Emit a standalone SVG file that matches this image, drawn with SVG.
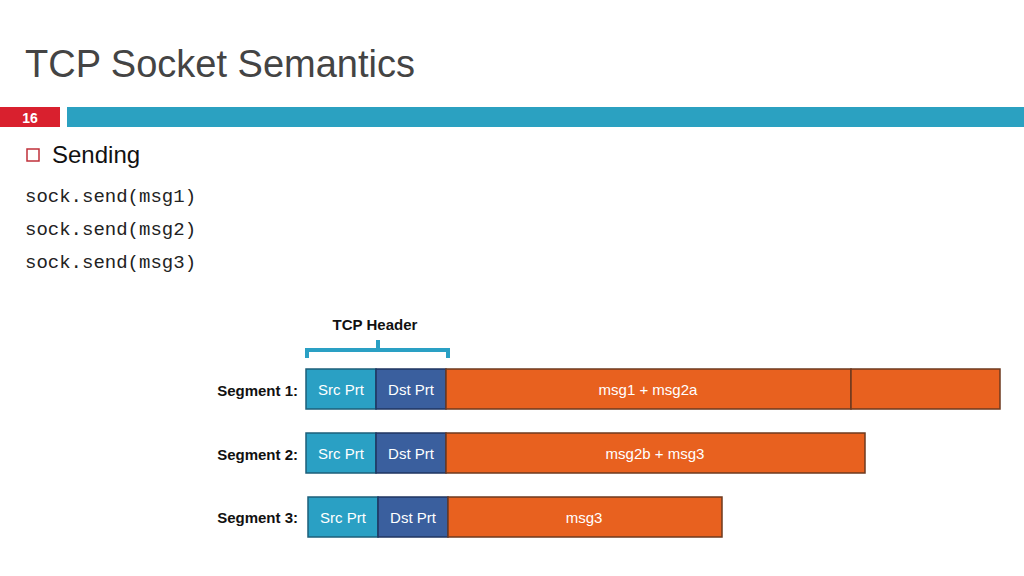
<svg xmlns="http://www.w3.org/2000/svg" width="1024" height="576" viewBox="0 0 1024 576">
<style>
.t{font-family:"Liberation Sans",Arial,sans-serif}
.src{fill:#2aa0c4;stroke:#1d5f7a;stroke-width:1.5}
.dst{fill:#3a5f9e;stroke:#1f3560;stroke-width:1.5}
.msg{fill:#e8611f;stroke:#6e3a1f;stroke-width:1.5}
.w{font-family:"Liberation Sans",Arial,sans-serif;font-size:15px;fill:#fff;text-anchor:middle}
.lab{font-family:"Liberation Sans",Arial,sans-serif;font-size:15px;font-weight:bold;fill:#111;text-anchor:end}
.code{font-family:"Liberation Mono",monospace;font-size:19px;fill:#222}
</style>
<rect width="1024" height="576" fill="#fff"/>
<text class="t" x="25" y="77" font-size="38" fill="#444">TCP Socket Semantics</text>
<rect x="0" y="107" width="60" height="20" fill="#d9202e"/>
<text class="t" x="30" y="123" font-size="14" font-weight="bold" fill="#fff" text-anchor="middle">16</text>
<rect x="67" y="107" width="957" height="20" fill="#2ba1c1"/>
<rect x="27" y="149" width="12" height="12" fill="none" stroke="#c0303a" stroke-width="1.5"/>
<text class="t" x="52" y="163" font-size="24" fill="#111">Sending</text>
<text class="code" x="25" y="202">sock.send(msg1)</text>
<text class="code" x="25" y="235">sock.send(msg2)</text>
<text class="code" x="25" y="268">sock.send(msg3)</text>
<g id="header-brace">
<text class="t" x="375" y="330" font-size="15" font-weight="bold" fill="#111" text-anchor="middle">TCP Header</text>
<path d="M307,358 V350 H378 V340 M378,350 H448 V358" fill="none" stroke="#2aa0c4" stroke-width="4"/>
</g>
<g id="seg1">
<text class="lab" x="298" y="396">Segment 1:</text>
<rect class="src" x="306" y="369" width="70" height="40"/>
<rect class="dst" x="376" y="369" width="70" height="40"/>
<rect class="msg" x="446" y="369" width="405" height="40"/>
<rect class="msg" x="851" y="369" width="149" height="40"/>
<text class="w" x="341" y="395">Src Prt</text>
<text class="w" x="411" y="395">Dst Prt</text>
<text class="w" x="648" y="395">msg1 + msg2a</text>
</g>
<g id="seg2">
<text class="lab" x="298" y="460">Segment 2:</text>
<rect class="src" x="306" y="433" width="70" height="40"/>
<rect class="dst" x="376" y="433" width="70" height="40"/>
<rect class="msg" x="446" y="433" width="419" height="40"/>
<text class="w" x="341" y="459">Src Prt</text>
<text class="w" x="411" y="459">Dst Prt</text>
<text class="w" x="655" y="459">msg2b + msg3</text>
</g>
<g id="seg3">
<text class="lab" x="298" y="523">Segment 3:</text>
<rect class="src" x="308" y="497" width="70" height="40"/>
<rect class="dst" x="378" y="497" width="70" height="40"/>
<rect class="msg" x="448" y="497" width="274" height="40"/>
<text class="w" x="343" y="523">Src Prt</text>
<text class="w" x="413" y="523">Dst Prt</text>
<text class="w" x="584" y="523">msg3</text>
</g>
<g id="connectors"></g>
</svg>
